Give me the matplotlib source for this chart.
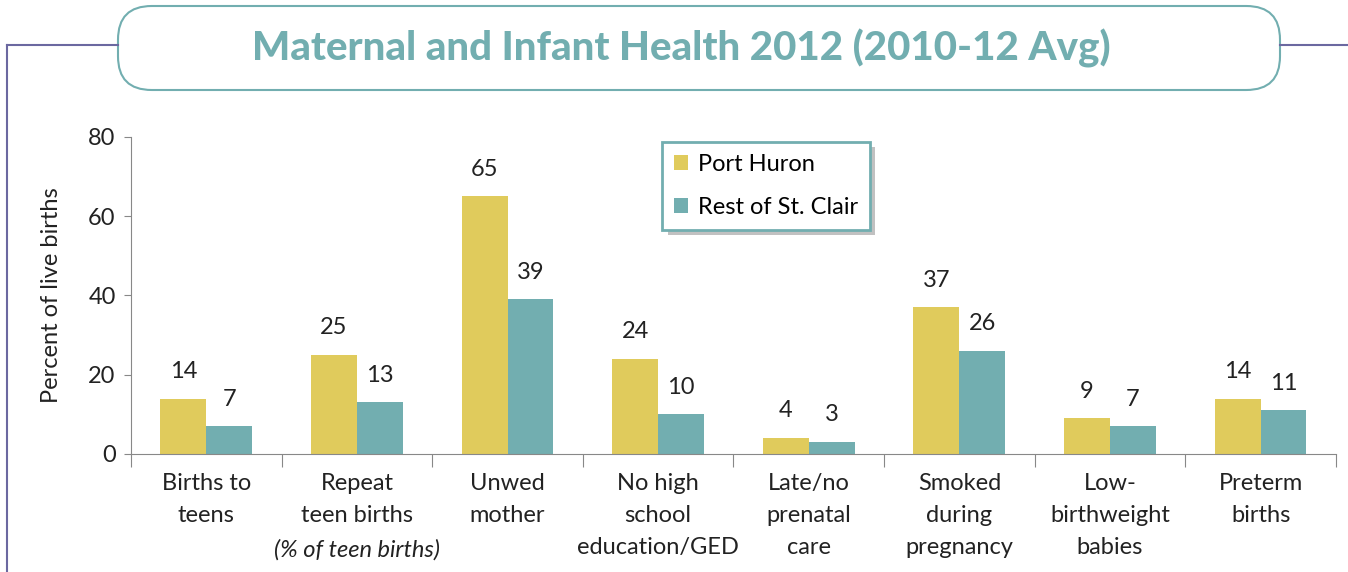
import matplotlib.pyplot as plt
import numpy as np
from matplotlib.patches import FancyBboxPatch
from matplotlib.lines import Line2D
import matplotlib.transforms as mtransforms
import matplotlib.patheffects as pe

plt.rcParams['font.family'] = ['Lato', 'DejaVu Sans']

categories = ['Births to\nteens', 'Repeat\nteen births', 'Unwed\nmother', 'No high\nschool\neducation/GED',
              'Late/no\nprenatal\ncare', 'Smoked\nduring\npregnancy', 'Low-\nbirthweight\nbabies', 'Preterm\nbirths']
port_huron = [14, 25, 65, 24, 4, 37, 9, 14]
rest_st_clair = [7, 13, 39, 10, 3, 26, 7, 11]

yellow = '#E0CB5C'
teal = '#72AEB0'
purple = '#6B68A0'
fs = 17

fig = plt.figure(figsize=(13.48, 5.72), dpi=100)
ax = fig.add_axes([0.0972, 0.2063, 0.8938, 0.5542])

x = np.arange(len(categories))
w = 0.305
b1 = ax.bar(x - w / 2, port_huron, w, color=yellow, label='Port Huron')
b2 = ax.bar(x + w / 2, rest_st_clair, w, color=teal, label='Rest of St. Clair')

for bars, vals in [(b1, port_huron), (b2, rest_st_clair)]:
    for r, v in zip(bars, vals):
        ax.annotate(str(v), (r.get_x() + r.get_width() / 2, v), xytext=(0, 12),
                    textcoords='offset points', ha='center', va='bottom', fontsize=fs, color='#222222')

ax.set_xlim(-0.5, len(categories) - 0.5)
ax.set_ylim(0, 80)
ax.set_yticks([0, 20, 40, 60, 80])
ax.tick_params(axis='y', labelsize=fs, length=5, color='#888888', labelcolor='#222222', pad=6)
ax.set_xticks(np.arange(len(categories) + 1) - 0.5)
ax.set_xticklabels([])
ax.tick_params(axis='x', length=9, color='#888888')
for s in ['top', 'right']:
    ax.spines[s].set_visible(False)
for s in ['left', 'bottom']:
    ax.spines[s].set_color('#888888')
ax.set_ylabel('Percent of live births', fontsize=fs, color='#222222', labelpad=19)

trans = mtransforms.blended_transform_factory(ax.transData, ax.transAxes)
for i, c in enumerate(categories):
    ax.text(i, -0.06, c, transform=trans, ha='center', va='top', fontsize=fs,
            color='#222222', linespacing=1.66)
ax.text(1, -0.06 - 0.207, '(% of teen births)', transform=trans, ha='center', va='top',
        fontsize=fs, style='italic', color='#222222')

leg = ax.legend(loc='upper left', bbox_to_anchor=(0.441, 0.985), fontsize=fs, frameon=True,
                fancybox=False, framealpha=1, handlelength=0.6, handleheight=0.6, handletextpad=0.4,
                labelspacing=0.95, borderpad=0.5, borderaxespad=0)
frame = leg.get_frame()
frame.set_facecolor('white')
frame.set_edgecolor(teal)
frame.set_linewidth(2)
frame.set_path_effects([pe.withSimplePatchShadow(offset=(4, -4), shadow_rgbFace='#999999', alpha=0.6)])

# frame lines around the chart
fig.add_artist(Line2D([7 / 1348, 118 / 1348], [1 - 45 / 572, 1 - 45 / 572], color=purple, lw=1.5))
fig.add_artist(Line2D([7 / 1348, 7 / 1348], [1 - 45 / 572, 0], color=purple, lw=1.5))
fig.add_artist(Line2D([1280 / 1348, 1], [1 - 45 / 572, 1 - 45 / 572], color=purple, lw=1.5))

box = FancyBboxPatch((118 / 1348, 1 - 90 / 572), (1280 - 118) / 1348, 84 / 572,
                     boxstyle='round,pad=0,rounding_size=0.025', transform=fig.transFigure,
                     facecolor='white', edgecolor=teal, lw=1.5, mutation_aspect=1348 / 572)
fig.add_artist(box)
fig.text(681 / 1348, 1 - 48 / 572, 'Maternal and Infant Health 2012 (2010-12 Avg)', ha='center', va='center',
         fontsize=29, fontweight='black', color=teal)

fig.savefig('out.png', dpi=100)
